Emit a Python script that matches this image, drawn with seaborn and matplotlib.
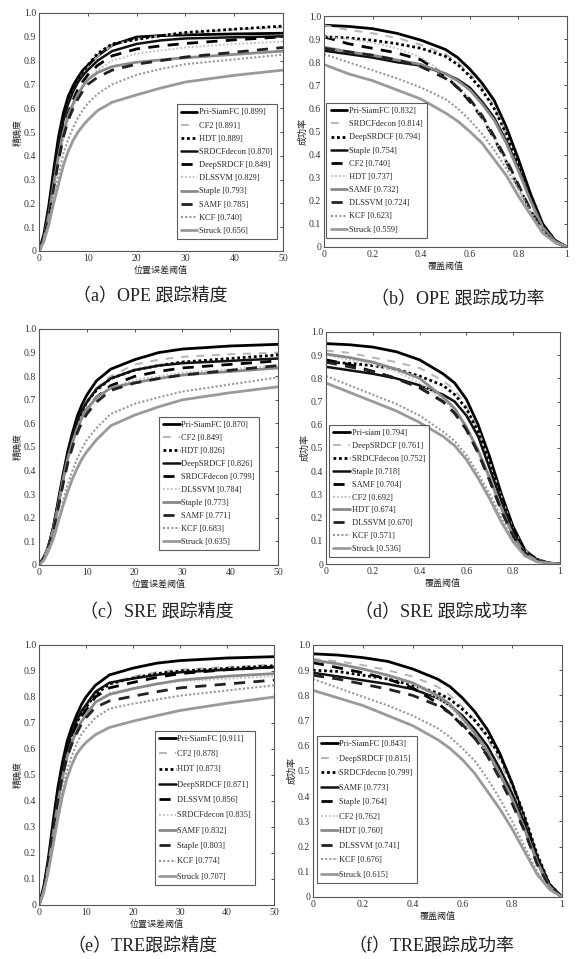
import matplotlib
matplotlib.use('Agg')
import matplotlib.pyplot as plt
import seaborn as sns

# x grids (read points)
x_prec = [0, 1, 2, 3, 4, 5, 6, 7, 8, 9, 10, 12, 15, 20, 25, 30, 40, 50]
x_succ = [0, 0.1, 0.2, 0.3, 0.4, 0.5, 0.55, 0.6, 0.65, 0.7, 0.75, 0.8, 0.85, 0.9, 0.95, 1.0]

# (a) OPE precision
ope_prec_labels = ['Pri-SiamFC [0.899]', 'CF2 [0.891]', 'HDT [0.889]', 'SRDCFdecon [0.870]',
                   'DeepSRDCF [0.849]', 'DLSSVM [0.829]', 'Staple [0.793]', 'SAMF [0.785]',
                   'KCF [0.740]', 'Struck [0.656]']
ope_prec_vals = [
    [0, .07, .19, .34, .48, .58, .65, .695, .73, .760, .78, .82, .865, .899, .905, .908, .912, .915],
    [0, .05, .16, .30, .44, .55, .62, .670, .71, .745, .77, .82, .865, .891, .905, .915, .930, .940],
    [0, .05, .16, .30, .44, .55, .63, .680, .72, .755, .78, .83, .870, .889, .905, .918, .932, .945],
    [0, .06, .17, .31, .45, .55, .62, .670, .71, .738, .76, .80, .840, .870, .885, .893, .898, .902],
    [0, .05, .15, .28, .41, .51, .58, .635, .68, .713, .74, .78, .820, .849, .862, .872, .887, .900],
    [0, .04, .13, .25, .37, .47, .55, .605, .65, .688, .72, .76, .800, .829, .843, .855, .870, .880],
    [0, .05, .15, .28, .40, .50, .57, .620, .66, .693, .72, .75, .775, .793, .803, .812, .826, .840],
    [0, .05, .14, .26, .38, .48, .55, .600, .64, .673, .70, .73, .760, .785, .800, .815, .835, .855],
    [0, .04, .12, .22, .32, .41, .47, .520, .56, .593, .62, .66, .700, .740, .765, .785, .805, .825],
    [0, .04, .11, .20, .28, .36, .42, .465, .50, .527, .55, .59, .625, .656, .685, .710, .738, .760],
]

# (b) OPE success
ope_succ_labels = ['Pri-SiamFC [0.832]', 'SRDCFdecon [0.814]', 'DeepSRDCF [0.794]', 'Staple [0.754]',
                   'CF2 [0.740]', 'HDT [0.737]', 'SAMF [0.732]', 'DLSSVM [0.724]',
                   'KCF [0.623]', 'Struck [0.559]']
ope_succ_vals = [
    [.960, .955, .945, .925, .895, .855, .82, .77, .71, .635, .52, .38, .23, .10, .03, 0],
    [.960, .940, .925, .905, .875, .835, .80, .75, .69, .610, .49, .35, .21, .09, .025, 0],
    [.910, .905, .895, .880, .860, .825, .79, .74, .68, .600, .49, .35, .21, .09, .025, 0],
    [.850, .835, .820, .800, .785, .750, .725, .69, .63, .560, .46, .34, .21, .09, .025, 0],
    [.910, .880, .860, .840, .810, .740, .69, .63, .56, .470, .37, .26, .16, .07, .02, 0],
    [.910, .900, .885, .860, .820, .750, .70, .64, .56, .470, .37, .26, .16, .07, .02, 0],
    [.865, .845, .830, .810, .790, .750, .72, .68, .62, .550, .45, .33, .20, .085, .025, 0],
    [.860, .845, .830, .810, .780, .730, .69, .64, .57, .480, .38, .27, .16, .07, .02, 0],
    [.835, .800, .765, .730, .690, .640, .60, .55, .49, .420, .34, .25, .15, .07, .02, 0],
    [.790, .750, .720, .680, .640, .580, .545, .50, .45, .380, .31, .22, .14, .06, .02, 0],
]

# (c) SRE precision
sre_prec_labels = ['Pri-SiamFC [0.870]', 'CF2 [0.849]', 'HDT [0.826]', 'DeepSRDCF [0.826]',
                   'SRDCFdecon [0.799]', 'DLSSVM [0.784]', 'Staple [0.773]', 'SAMF [0.771]',
                   'KCF [0.683]', 'Struck [0.635]']
sre_prec_vals = [
    [0, .03, .08, .16, .27, .38, .48, .560, .63, .680, .72, .78, .83, .870, .900, .915, .928, .935],
    [0, .03, .08, .15, .25, .36, .46, .535, .60, .650, .69, .75, .80, .849, .870, .882, .893, .900],
    [0, .03, .08, .15, .25, .36, .46, .535, .60, .650, .69, .74, .79, .826, .845, .860, .875, .890],
    [0, .03, .08, .16, .26, .37, .47, .545, .61, .655, .69, .745, .79, .826, .845, .855, .865, .875],
    [0, .03, .08, .15, .25, .35, .45, .520, .58, .625, .66, .71, .76, .799, .820, .835, .850, .865],
    [0, .03, .08, .15, .25, .35, .44, .510, .57, .615, .65, .70, .75, .784, .800, .815, .830, .845],
    [0, .03, .08, .15, .25, .36, .45, .520, .58, .625, .66, .71, .75, .773, .790, .805, .820, .835],
    [0, .03, .08, .14, .24, .34, .43, .500, .56, .605, .64, .69, .74, .771, .790, .805, .825, .845],
    [0, .02, .07, .12, .19, .27, .34, .400, .45, .495, .53, .58, .64, .683, .710, .735, .765, .795],
    [0, .02, .06, .11, .18, .25, .31, .365, .41, .450, .48, .53, .59, .635, .670, .700, .730, .755],
]

# (d) SRE success
sre_succ_labels = ['Pri-siam [0.794]', 'DeepSRDCF [0.761]', 'SRDCFdecon [0.752]', 'Staple [0.718]',
                   'SAMF [0.704]', 'CF2 [0.692]', 'HDT [0.674]', 'DLSSVM [0.670]',
                   'KCF [0.571]', 'Struck [0.536]']
sre_succ_vals = [
    [.950, .945, .935, .915, .880, .820, .780, .710, .600, .460, .300, .160, .060, .020, .005, 0],
    [.920, .910, .890, .870, .845, .790, .750, .680, .580, .440, .290, .150, .060, .020, .005, 0],
    [.870, .865, .855, .840, .810, .770, .730, .670, .570, .440, .290, .150, .055, .020, .005, 0],
    [.850, .835, .820, .800, .770, .730, .700, .640, .550, .410, .270, .140, .050, .015, .004, 0],
    [.880, .860, .830, .800, .760, .700, .650, .580, .480, .360, .230, .120, .045, .015, .004, 0],
    [.900, .880, .860, .830, .780, .710, .660, .580, .480, .360, .230, .120, .045, .015, .004, 0],
    [.905, .890, .870, .840, .800, .720, .670, .590, .490, .370, .240, .120, .045, .015, .004, 0],
    [.870, .850, .830, .800, .760, .700, .650, .580, .480, .360, .230, .120, .045, .015, .004, 0],
    [.810, .770, .730, .690, .640, .570, .530, .470, .390, .300, .200, .100, .040, .012, .003, 0],
    [.780, .740, .700, .660, .610, .550, .510, .450, .370, .280, .180, .095, .035, .010, .003, 0],
]

# (e) TRE precision
tre_prec_labels = ['Pri-SiamFC [0.911]', 'CF2 [0.878]', 'HDT [0.873]', 'DeepSRDCF [0.871]',
                   'DLSSVM [0.856]', 'SRDCFdecon [0.835]', 'SAMF [0.832]', 'Staple [0.803]',
                   'KCF [0.774]', 'Struck [0.707]']
tre_prec_vals = [
    [0, .07, .18, .32, .45, .55, .63, .685, .73, .770, .80, .845, .885, .911, .930, .940, .950, .955],
    [0, .06, .16, .29, .42, .52, .60, .655, .70, .735, .76, .810, .855, .878, .895, .905, .915, .925],
    [0, .06, .16, .29, .42, .52, .60, .655, .70, .735, .76, .810, .850, .873, .890, .900, .910, .920],
    [0, .06, .17, .30, .43, .53, .61, .665, .71, .745, .77, .820, .855, .871, .885, .895, .905, .915],
    [0, .06, .16, .29, .41, .51, .59, .645, .69, .725, .75, .800, .835, .856, .875, .890, .905, .915],
    [0, .05, .15, .27, .39, .49, .57, .625, .67, .705, .73, .780, .815, .835, .850, .860, .870, .880],
    [0, .05, .15, .27, .39, .49, .57, .625, .67, .705, .73, .780, .810, .832, .850, .865, .880, .890],
    [0, .06, .16, .29, .40, .50, .57, .620, .66, .695, .72, .760, .785, .803, .820, .835, .850, .865],
    [0, .05, .13, .24, .35, .45, .52, .575, .62, .655, .68, .720, .755, .774, .790, .805, .825, .845],
    [0, .05, .13, .23, .33, .42, .49, .540, .58, .605, .625, .655, .683, .707, .728, .748, .776, .800],
]

# (f) TRE success
tre_succ_labels = ['Pri-SiamFC [0.843]', 'DeepSRDCF [0.815]', 'SRDCFdecon [0.799]', 'SAMF [0.773]',
                   'Staple [0.764]', 'CF2 [0.762]', 'HDT [0.760]', 'DLSSVM [0.741]',
                   'KCF [0.676]', 'Struck [0.615]']
tre_succ_vals = [
    [.965, .960, .950, .935, .905, .865, .835, .790, .735, .665, .570, .450, .310, .160, .050, 0],
    [.945, .935, .920, .900, .875, .835, .800, .755, .700, .630, .540, .430, .300, .150, .045, 0],
    [.900, .895, .880, .865, .840, .810, .785, .745, .700, .640, .560, .450, .320, .170, .050, 0],
    [.890, .875, .860, .845, .825, .790, .760, .720, .665, .600, .510, .410, .290, .150, .045, 0],
    [.930, .910, .890, .865, .830, .770, .730, .680, .630, .570, .490, .390, .270, .140, .040, 0],
    [.940, .925, .905, .880, .845, .790, .755, .700, .640, .570, .480, .380, .260, .130, .040, 0],
    [.940, .925, .905, .880, .850, .800, .765, .710, .650, .580, .490, .390, .270, .140, .040, 0],
    [.880, .865, .845, .825, .800, .760, .730, .685, .630, .560, .470, .370, .260, .130, .040, 0],
    [.865, .830, .795, .760, .720, .670, .635, .590, .540, .470, .390, .300, .200, .100, .030, 0],
    [.820, .790, .760, .720, .680, .625, .590, .545, .490, .420, .350, .270, .180, .090, .030, 0],
]

# line styles by legend rank
line_styles = [
    dict(color='black', ls='-', lw=2.0),
    dict(color='#b5b5b5', ls=(0, (4, 4)), lw=1.4),
    dict(color='black', ls=(0, (1, 1)), lw=2.0),
    dict(color='#111111', ls='-', lw=1.8),
    dict(color='black', ls=(0, (4, 3)), lw=2.0),
    dict(color='#c5c5c5', ls=(0, (1, 1)), lw=1.4),
    dict(color='#8a8a8a', ls='-', lw=2.0),
    dict(color='#222222', ls=(0, (4, 3)), lw=2.0),
    dict(color='#999999', ls=(0, (1, 1)), lw=1.5),
    dict(color='#9a9a9a', ls='-', lw=2.0),
]

sns.set_style('white')
plt.rcParams['font.family'] = ['Liberation Serif', 'Noto Sans CJK SC']
plt.rcParams['axes.linewidth'] = 0.8

W, H = 577, 959
fig = plt.figure(figsize=(W / 100, H / 100), dpi=100)

def px_axes(l, t, r, b):
    return fig.add_axes([l / W, 1 - b / H, (r - l) / W, (b - t) / H])

panels = [
    # axes box px, x, labels, values, kind, legend loc, anchor, label spacing, caption, caption pos
    ((39, 13, 283, 251), x_prec, ope_prec_labels, ope_prec_vals, 'prec', 'lower right', (0.975, 0.05), 0.62,
     '（a）OPE 跟踪精度', (150, 297)),
    ((324, 16, 567, 247), x_succ, ope_succ_labels, ope_succ_vals, 'succ', 'lower left', (0.01, 0.04), 0.62,
     '（b）OPE 跟踪成功率', (458, 300)),
    ((39, 329, 278, 565), x_prec, sre_prec_labels, sre_prec_vals, 'prec', 'lower right', (0.92, 0.064), 0.60,
     '（c）SRE 跟踪精度', (157, 613)),
    ((326, 332, 560, 564), x_succ, sre_succ_labels, sre_succ_vals, 'succ', 'lower left', (0.013, 0.03), 0.58,
     '（d）SRE 跟踪成功率', (441, 613)),
    ((39, 645, 274, 905), x_prec, tre_prec_labels, tre_prec_vals, 'prec', 'lower right', (0.92, 0.077), 0.88,
     '（e）TRE跟踪精度', (142, 947)),
    ((313, 645, 562, 897), x_succ, tre_succ_labels, tre_succ_vals, 'succ', 'lower left', (0.016, 0.056), 0.78,
     '（f）TRE跟踪成功率', (431, 947)),
]

for box, xs, labels, vals, kind, loc, anchor, lspace, caption, cpos in panels:
    ax = px_axes(*box)
    for lab, ys, st in zip(labels, vals, line_styles):
        sns.lineplot(x=xs, y=ys, ax=ax, label=lab, color=st['color'], linestyle=st['ls'],
                     linewidth=st['lw'], sort=False)
    ax.set_ylim(0, 1)
    ax.set_yticks([i / 10 for i in range(11)])
    ax.set_yticklabels(['0'] + ['%.1f' % (i / 10) for i in range(1, 11)])
    if kind == 'prec':
        ax.set_xlim(0, 50)
        ax.set_xticks([0, 10, 20, 30, 40, 50])
        ax.set_xlabel('位置误差阈值', fontsize=6.5, labelpad=2)
        ax.set_ylabel('精确度', fontsize=6.5, labelpad=1)
    else:
        ax.set_xlim(0, 1)
        ax.set_xticks([0, 0.2, 0.4, 0.6, 0.8, 1.0])
        ax.set_xticklabels(['0', '0.2', '0.4', '0.6', '0.8', '1'])
        ax.set_xlabel('覆盖阈值', fontsize=6.5, labelpad=2)
        ax.set_ylabel('成功率', fontsize=6.5, labelpad=1)
    ax.tick_params(direction='in', top=True, right=True, length=2.5, width=0.6,
                   labelsize=7, pad=2, colors='#333333')
    for sp in ax.spines.values():
        sp.set_color('#555555')
    leg = ax.legend(loc=loc, bbox_to_anchor=anchor, fontsize=6, frameon=True, fancybox=False,
                    handlelength=2.0, handletextpad=0.2, labelspacing=lspace, borderpad=0.5,
                    borderaxespad=0)
    leg.get_frame().set_edgecolor('#333333')
    leg.get_frame().set_linewidth(0.8)
    fig.text(cpos[0] / W, 1 - cpos[1] / H, caption, fontsize=13, ha='center', va='center',
             color='#222222')

fig.savefig('out.png', dpi=100, facecolor='white')
